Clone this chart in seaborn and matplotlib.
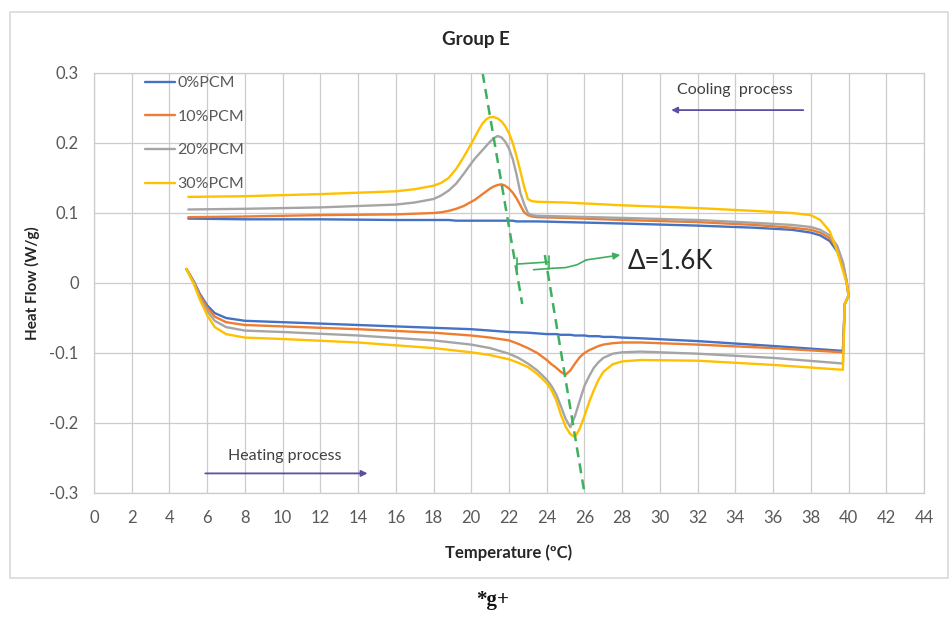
import numpy as np
import pandas as pd
import matplotlib
matplotlib.use("Agg")
import matplotlib.pyplot as plt
from matplotlib.patches import Rectangle
import seaborn as sns

# ---- DSC data: heating branch (5 -> 40 degC), then cooling branch (40 -> 5 degC) ----
SAMPLES = ["0%PCM", "10%PCM", "20%PCM", "30%PCM"]
COLORS = ["#4472C4", "#ED7D31", "#A5A5A5", "#FFC000"]

HEAT_T = [4.9, 5.3, 5.6, 6.0, 6.4, 7.0, 8.0, 10, 14, 18, 20, 21, 22, 22.5, 23, 23.5, 24,
          24.25, 24.5, 24.75, 25, 25.25, 25.5, 25.75, 26, 26.25, 26.5, 26.75, 27, 27.5, 28,
          29, 32, 36, 39.7, 39.8]
heat_0 = [0.020, 0.002, -0.015, -0.032, -0.043, -0.050, -0.054, -0.056, -0.060, -0.064,
          -0.066, -0.068, -0.070, -0.0705, -0.071, -0.072, -0.073,
          -0.073, -0.073, -0.074, -0.074, -0.074, -0.075, -0.075, -0.075, -0.076, -0.076,
          -0.076, -0.077, -0.077, -0.078, -0.079, -0.083, -0.090, -0.097, -0.030]
heat_10 = [0.020, 0.001, -0.017, -0.035, -0.048, -0.056, -0.060, -0.062, -0.066, -0.071,
           -0.075, -0.078, -0.082, -0.087, -0.093, -0.100, -0.110,
           -0.116, -0.121, -0.127, -0.131, -0.125, -0.115, -0.106, -0.100, -0.096, -0.093,
           -0.090, -0.088, -0.086, -0.085, -0.085, -0.088, -0.093, -0.099, -0.030]
heat_20 = [0.020, 0.000, -0.020, -0.040, -0.054, -0.063, -0.068, -0.070, -0.075, -0.082,
           -0.088, -0.093, -0.101, -0.107, -0.115, -0.125, -0.138,
           -0.147, -0.159, -0.176, -0.194, -0.206, -0.190, -0.168, -0.147, -0.133, -0.121,
           -0.113, -0.107, -0.101, -0.099, -0.098, -0.101, -0.107, -0.115, -0.030]
heat_30 = [0.020, -0.002, -0.023, -0.046, -0.063, -0.073, -0.078, -0.080, -0.085, -0.093,
           -0.099, -0.103, -0.109, -0.114, -0.120, -0.130, -0.143,
           -0.153, -0.167, -0.188, -0.205, -0.216, -0.220, -0.208, -0.190, -0.170, -0.153,
           -0.138, -0.127, -0.116, -0.112, -0.110, -0.111, -0.117, -0.124, -0.030]

COOL_T = [40, 39.9, 39.7, 39.4, 39.0, 38.5, 38.0, 37, 35, 32, 28, 25, 23.5, 23.2, 23.0,
          22.8, 22.6, 22.4, 22.2, 22.0, 21.8, 21.6, 21.4, 21.2, 21.0, 20.8, 20.6, 20.4,
          20.2, 20.0, 19.6, 19.2, 18.8, 18.4, 18.0, 17, 16, 12, 8, 5]
cool_0 = [-0.018, 0.000, 0.025, 0.045, 0.060, 0.068, 0.072, 0.076, 0.079, 0.082, 0.085,
          0.087, 0.088, 0.088, 0.088,
          0.088, 0.088, 0.088, 0.089, 0.089, 0.089, 0.089, 0.089, 0.089, 0.089, 0.089,
          0.089, 0.089, 0.089, 0.089, 0.089, 0.089, 0.090, 0.090, 0.090, 0.090, 0.090,
          0.091, 0.091, 0.092]
cool_10 = [-0.018, 0.002, 0.028, 0.050, 0.064, 0.072, 0.076, 0.079, 0.083, 0.087, 0.090,
           0.093, 0.094, 0.095, 0.097,
           0.101, 0.111, 0.121, 0.129, 0.135, 0.139, 0.141, 0.140, 0.138, 0.135, 0.131,
           0.127, 0.123, 0.119, 0.116, 0.110, 0.106, 0.103, 0.101, 0.100, 0.099, 0.098,
           0.097, 0.095, 0.094]
cool_20 = [-0.018, 0.003, 0.030, 0.053, 0.068, 0.076, 0.080, 0.083, 0.086, 0.090, 0.093,
           0.095, 0.096, 0.097, 0.100,
           0.113, 0.129, 0.155, 0.177, 0.192, 0.202, 0.208, 0.210, 0.207, 0.202, 0.196,
           0.190, 0.184, 0.178, 0.171, 0.156, 0.142, 0.132, 0.125, 0.120, 0.115, 0.112,
           0.108, 0.106, 0.105]
cool_30 = [-0.018, 0.000, 0.018, 0.045, 0.074, 0.090, 0.097, 0.100, 0.103, 0.107, 0.111,
           0.115, 0.116, 0.117, 0.120,
           0.138, 0.160, 0.181, 0.200, 0.214, 0.224, 0.231, 0.235, 0.237, 0.237, 0.234,
           0.228, 0.219, 0.209, 0.199, 0.180, 0.163, 0.150, 0.143, 0.139, 0.134, 0.131,
           0.127, 0.124, 0.123]

HEAT = [heat_0, heat_10, heat_20, heat_30]
COOL = [cool_0, cool_10, cool_20, cool_30]

X_TICKS = list(range(0, 46, 2))
Y_TICKS = [-0.3, -0.2, -0.1, 0, 0.1, 0.2, 0.3]
Y_TICK_LABELS = ["-0.3", "-0.2", "-0.1", "0", "0.1", "0.2", "0.3"]

# peak-tracking guide lines (crystallisation / melting peaks)
COOL_GUIDE_T = [20.6, 22.7]
COOL_GUIDE_HF = [0.30, -0.03]
HEAT_GUIDE_T = [23.9, 26.0]
HEAT_GUIDE_HF = [0.04, -0.30]

# ---- long-form table ----
rows = []
for name, h, c in zip(SAMPLES, HEAT, COOL):
    order = 0
    for t, v in zip(HEAT_T, h):
        rows.append((name, order, t, v)); order += 1
    for t, v in zip(COOL_T, c):
        rows.append((name, order, t, v)); order += 1
df = pd.DataFrame(rows, columns=["Sample", "step", "Temperature", "HeatFlow"])

sns.set_theme(style="white")
plt.rcParams["font.family"] = ["Lato", "DejaVu Sans"]
plt.rcParams["axes.unicode_minus"] = False

fig = plt.figure(figsize=(9.5, 6.17), dpi=100)
ax = fig.add_axes([94 / 950, 1 - 493 / 617, 830 / 950, 420 / 617])

sns.lineplot(data=df, x="Temperature", y="HeatFlow", hue="Sample", hue_order=SAMPLES,
             palette=COLORS, sort=False, estimator=None, units="Sample",
             linewidth=1.7, ax=ax, legend=False)

ax.set_xlim(0, 44)
ax.set_ylim(-0.3, 0.3)
ax.set_xticks(X_TICKS)
ax.set_yticks(Y_TICKS)
ax.set_yticklabels(Y_TICK_LABELS)
ax.tick_params(axis="both", length=0, labelsize=12, colors="#595959")
ax.tick_params(axis="x", pad=12)
ax.tick_params(axis="y", pad=11)
ax.grid(True, color="#CCCCCC", linewidth=0.9)
ax.set_axisbelow(True)
for sp in ax.spines.values():
    sp.set_color("#CCCCCC")
    sp.set_linewidth(0.9)

ax.set_xlabel("Temperature (ºC)", fontsize=12, fontweight="bold", color="#262626")
ax.set_ylabel("Heat Flow (W/g)", fontsize=11, fontweight="bold", color="#262626")
ax.xaxis.set_label_coords(0.5, -0.122)
ax.yaxis.set_label_coords(-0.065, 0.5)

# legend in the upper-left corner of the plot area
handles = [plt.Line2D([], [], color=c, linewidth=1.7) for c in COLORS]
leg = ax.legend(handles, SAMPLES, loc="upper left", bbox_to_anchor=(0.061, 0.993),
                frameon=False, borderaxespad=0, borderpad=0, handlelength=1.9,
                handletextpad=0.15, labelspacing=1.22, fontsize=11.5)
for t in leg.get_texts():
    t.set_color("#595959")

# guide lines
green = "#3FAF5F"
ax.plot(COOL_GUIDE_T, COOL_GUIDE_HF, color=green, linestyle=(0, (4, 2.5)), linewidth=1.8)
ax.plot(HEAT_GUIDE_T, HEAT_GUIDE_HF, color=green, linestyle=(0, (4, 2.5)), linewidth=1.8)

# shift annotation between the two guides
ax.plot([22.4, 24.1], [0.027, 0.030], color=green, linewidth=1.2)
ax.plot([22.4, 22.4], [0.019, 0.035], color=green, linewidth=1.2)
ax.plot([24.1, 24.1], [0.020, 0.039], color=green, linewidth=1.2)
ax.plot([23.3, 24.3], [0.019, 0.021], color=green, linewidth=1.2)
ax.plot([24.3, 25.0, 25.6, 26.1], [0.021, 0.022, 0.026, 0.033], color=green, linewidth=1.2)
ax.annotate("", xy=(27.9, 0.040), xytext=(26.1, 0.033),
            arrowprops=dict(arrowstyle="-|>", color=green, lw=1.2, mutation_scale=10,
                            shrinkA=0, shrinkB=0))
ax.text(28.3, 0.030, "Δ=1.6K", fontsize=18.5, color="#262626", va="center", ha="left",
        family=["Lato", "DejaVu Sans"])

# process direction notes
purple = "#5B4FA3"
ax.text(34.0, 0.276, "Cooling  process", fontsize=11.5, color="#404040", ha="center", va="center")
ax.annotate("", xy=(30.6, 0.247), xytext=(37.6, 0.247),
            arrowprops=dict(arrowstyle="-|>", color=purple, lw=1.3, mutation_scale=9,
                            shrinkA=0, shrinkB=0))
ax.text(10.1, -0.247, "Heating process", fontsize=11.5, color="#404040", ha="center", va="center")
ax.annotate("", xy=(14.5, -0.272), xytext=(5.9, -0.272),
            arrowprops=dict(arrowstyle="-|>", color=purple, lw=1.3, mutation_scale=9,
                            shrinkA=0, shrinkB=0))

# chart title, outer frame and caption
fig.text(476 / 950, 1 - 40 / 617, "Group E", fontsize=13.5, fontweight="bold",
         color="#262626", ha="center", va="center")
fig.add_artist(Rectangle((10 / 950, 1 - 578 / 617), 938 / 950, 566 / 617,
                         transform=fig.transFigure, fill=False,
                         edgecolor="#D9D9D9", linewidth=1.2))
fig.text(493 / 950, 1 - 600 / 617, "*g+", fontsize=15, fontweight="bold",
         family=["Liberation Serif", "DejaVu Serif"], color="#111111",
         ha="center", va="center")

fig.savefig("out.png", dpi=100)
